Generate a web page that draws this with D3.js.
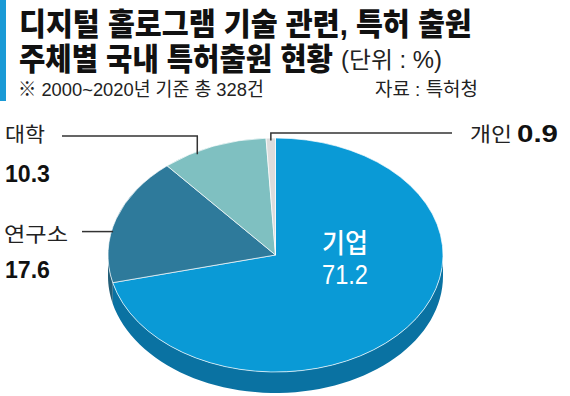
<!DOCTYPE html>
<html>
<head>
<meta charset="utf-8">
<script src="https://cdn.jsdelivr.net/npm/d3@7"></script>
<style>
  body { margin: 0; background: #fff; }
  svg { display: block; font-family: "Liberation Sans", "Noto Sans CJK KR", sans-serif; }
</style>
</head>
<body>
<div id="chart"></div>
<script>
// data
const categories = ["기업", "연구소", "대학", "개인"];
const shares = [71.2, 17.6, 10.3, 0.9];
const topColors = ["#0a9ad6", "#2e7a9b", "#7fc0c1", "#dcdcdc"];
const sideColors = ["#0a72a2", "#235f79", "#5f9c9d", "#b5b5b5"];

const width = 570;
const height = 396;

const svg = d3.select("#chart").append("svg")
  .attr("width", width)
  .attr("height", height);

// title block
svg.append("rect").attr("x", 0).attr("y", 0).attr("width", 6).attr("height", 101).attr("fill", "#1a9ad6");

// text squeezed horizontally to a target width (the original uses a condensed face)
const addText = (txt, x, y, size, weight, len, fill = "#111", anchor = "start") => {
  const t = svg.append("text")
    .attr("font-size", size)
    .attr("font-weight", weight)
    .attr("fill", fill)
    .attr("text-anchor", anchor)
    .text(txt);
  const w = t.node().getComputedTextLength();
  t.attr("transform", `translate(${x},${y}) scale(${len / w},1)`);
  return t;
};

addText("디지털 홀로그램 기술 관련, 특허 출원", 19, 35, 31, 900, 453);
addText("주체별 국내 특허출원 현황", 19, 70, 31, 900, 314);
addText("(단위 : %)", 341, 68, 23, 400, 101, "#222");
addText("※ 2000~2020년 기준 총 328건", 18, 96, 19, 400, 246, "#222");
addText("자료 : 특허청", 375, 96, 19, 400, 103, "#222");

// 3D pie
const cx = 275.5, cy = 255, rx = 167.5, ry = 117, depth = 21;

const pie = d3.pie().sort(null).value((d) => d.value);
const arcs = pie(categories.map((c, i) => ({ name: c, value: shares[i], i })));

const pt = (a, dy = 0) => [cx + Math.sin(a) * rx, cy - Math.cos(a) * ry + dy];

// side walls (only lower half is visible)
const sideG = svg.append("g");
arcs.forEach((d) => {
  const s0 = Math.max(d.startAngle, Math.PI / 2);
  const s1 = Math.min(d.endAngle, Math.PI * 1.5);
  if (s0 >= s1) return;
  const steps = d3.range(0, 61).map((k) => s0 + (s1 - s0) * k / 60);
  const top = steps.map((a) => pt(a));
  const bottom = steps.slice().reverse().map((a) => pt(a, depth));
  sideG.append("path")
    .attr("d", d3.line()(top.concat(bottom)) + "Z")
    .attr("fill", sideColors[d.data.i]);
});

// top faces: circular arcs squashed into an ellipse
const arc = d3.arc().innerRadius(0).outerRadius(rx);
svg.append("g")
  .attr("transform", `translate(${cx},${cy}) scale(1,${ry / rx})`)
  .selectAll("path")
  .data(arcs)
  .join("path")
  .attr("d", arc)
  .attr("fill", (d) => topColors[d.data.i])
  .attr("stroke", "#fff")
  .attr("stroke-width", 0.8);

// inside label for the largest slice
addText(categories[0], cx + rx * 0.415, 253, 27, 500, 46, "#fff", "middle");
addText(String(shares[0]), cx + rx * 0.415, 284, 27, 400, 46, "#fff", "middle");

// leader lines and outside labels
const lineColor = "#333";
const leader = (points) =>
  svg.append("path")
    .attr("d", d3.line()(points))
    .attr("fill", "none")
    .attr("stroke", lineColor)
    .attr("stroke-width", 1.5);

// anchor point near the rim, at a fraction through the slice
const anchor = (i, f, inset) => {
  const a = arcs[i].startAngle + (arcs[i].endAngle - arcs[i].startAngle) * f;
  return [cx + Math.sin(a) * rx * inset, cy - Math.cos(a) * ry * inset];
};

// 대학
const pU = anchor(2, 0.32, 0.98);
leader([[62, 136], [pU[0], 136], pU]);
addText(categories[2], 5, 142, 20, 400, 40, "#222");
addText(String(shares[2]), 5, 182, 24, 700, 45, "#111");

// 연구소
const pR = anchor(1, 0.4, 0.99);
leader([[82, pR[1]], pR]);
addText(categories[1], 4, 242, 20, 400, 64, "#222");
addText(String(shares[1]), 5, 278, 24, 700, 45, "#111");

// 개인
const pP = anchor(3, 0.5, 0.98);
leader([[452, 133], [pP[0], 133], pP]);
addText(categories[3], 470, 142, 20, 400, 42, "#222");
addText(String(shares[3]), 517, 142, 24, 700, 41, "#111");
</script>
</body>
</html>
